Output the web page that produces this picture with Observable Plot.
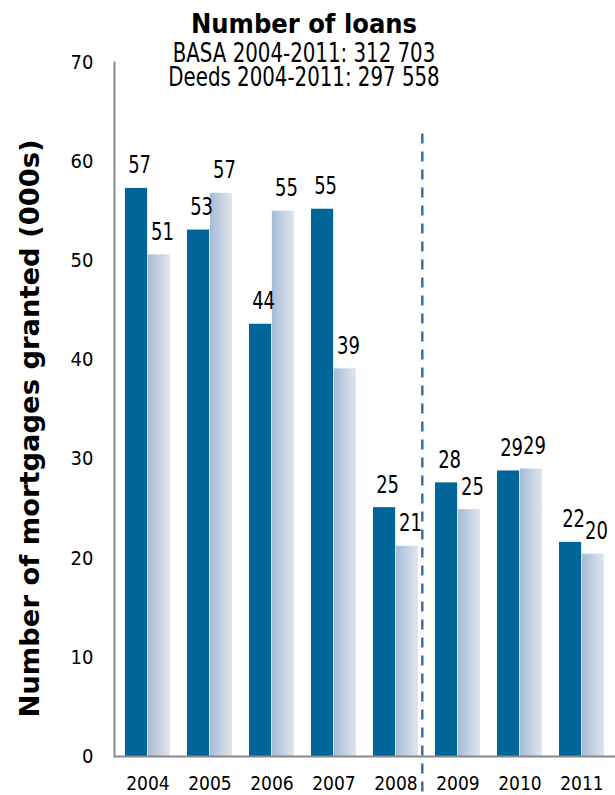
<!DOCTYPE html>
<html>
<head>
<meta charset="utf-8">
<script src="https://cdn.jsdelivr.net/npm/d3@7"></script>
<script src="https://cdn.jsdelivr.net/npm/@observablehq/plot@0.6"></script>
<style>
  html, body { margin: 0; padding: 0; background: #fff; }
  #wrap { position: relative; width: 615px; height: 795px; font-family: "DejaVu Sans Condensed", "DejaVu Sans", sans-serif; }
  .hd { position: absolute; left: 0; width: 608px; text-align: center; color: #000; white-space: nowrap; }
  .hd.t { top: 10px; font-weight: bold; font-size: 27px; line-height: 27px; }
  .hd.s { font-size: 22px; line-height: 18px; transform: scaleY(1.23); transform-origin: 50% 92%; }
</style>
</head>
<body>
<div id="wrap">
  <div id="chart"></div>
  <div class="hd t">Number of loans</div>
  <div class="hd s" style="top:46px">BASA 2004-2011: 312 703</div>
  <div class="hd s" style="top:70px">Deeds 2004-2011: 297 558</div>
</div>
<script>
const years = ["2004","2005","2006","2007","2008","2009","2010","2011"];
const basa  = [57.3, 53.1, 43.6, 55.2, 25.1, 27.6, 28.8, 21.6];
const deeds = [50.6, 56.8, 55.0, 39.1, 21.2, 24.9, 29.0, 20.4];
const basaLabels  = ["57","53","44","55","25","28","29","22"];
const deedsLabels = ["51","57","55","39","21","25","29","20"];
const yTicks = [0, 10, 20, 30, 40, 50, 60, 70];
const yLabel = "Number of mortgages granted (000s)";
const dividerAfter = "2008";
const dividerTop = 62.8;
const dividerBottom = -4;

const basaRows = years.map((y, i) => ({year: y, value: basa[i], label: basaLabels[i]}));
const deedsRows = years.map((y, i) => ({year: y, value: deeds[i], label: deedsLabels[i]}));

const W = 615, H = 795;
const mL = 114, mR = 0, mT = 62, mB = 39;
const step = (W - mL - mR) / 8;
const half = step * 0.73 / 2;

const font = '"DejaVu Sans Condensed", "DejaVu Sans", sans-serif';

const chart = Plot.plot({
  width: W, height: H,
  marginLeft: mL, marginRight: mR, marginTop: mT, marginBottom: mB,
  style: {fontFamily: font, fontSize: "19px", color: "#000", background: "#fff", overflow: "visible"},
  x: {type: "band", domain: years, paddingInner: 0.27, paddingOuter: 0.135, label: null},
  y: {domain: [0, 70], ticks: yTicks, label: null},
  marks: [
    Plot.barY(basaRows, {x: "year", y: "value", fill: "#006699", insetRight: half}),
    Plot.barY(deedsRows, {x: "year", y: "value", fill: "url(#deedsGrad)", insetLeft: half}),
    Plot.text(basaRows, {x: "year", y: "value", text: "label", dx: -half/2 + 3, dy: -15, lineAnchor: "bottom", fontSize: 20, fill: "#000", ariaDescription: "value-label"}),
    Plot.text(deedsRows, {x: "year", y: "value", text: "label", dx: half/2 + 3, dy: -15, lineAnchor: "bottom", fontSize: 20, fill: "#000", ariaDescription: "value-label"}),
    Plot.ruleX([dividerAfter], {x: d => d, y1: dividerTop, y2: dividerBottom, dx: step * 0.42, stroke: "#3d6fa6", strokeWidth: 2.5, strokeDasharray: "10,8"}),
    Plot.ruleY([0], {stroke: "#888", strokeWidth: 2}),
    Plot.axisX({tickSize: 0, tickPadding: 20, fontSize: 19, fill: "#000"}),
    Plot.axisY({ticks: yTicks, tickSize: 0, tickPadding: 21, fontSize: 20, fill: "#000"}),
    Plot.frame({anchor: "left", stroke: "#888", strokeWidth: 2}),
    Plot.text([yLabel], {frameAnchor: "left", text: d => d, rotate: -90, dx: -84, dy: 19, fontSize: 26, fontWeight: "bold", fill: "#000", textAnchor: "middle", ariaDescription: "y-title"})
  ]
});

const defs = d3.select(chart).insert("defs", ":first-child");
const g = defs.append("linearGradient").attr("id", "deedsGrad").attr("x1", "0").attr("x2", "1").attr("y1", "0").attr("y2", "0");
g.append("stop").attr("offset", "0%").attr("stop-color", "#a7bbd6");
g.append("stop").attr("offset", "100%").attr("stop-color", "#e0e6ef");

// vertical stretch of the value labels, and lengthwise stretch of the rotated y title
function stretch(desc, s) {
  d3.select(chart).selectAll(`g[aria-description="${desc}"] text`).each(function() {
    const t = this.getAttribute("transform");
    if (t) {
      this.setAttribute("transform", t + " " + s);
    } else {
      const x = +this.getAttribute("x") || 0, y = +this.getAttribute("y") || 0;
      this.removeAttribute("x"); this.removeAttribute("y");
      this.setAttribute("transform", `translate(${x},${y}) ${s}`);
    }
  });
}
stretch("value-label", "scale(1,1.23)");
stretch("y-title", "scale(1.17,1)");

document.getElementById("chart").appendChild(chart);
</script>
</body>
</html>
